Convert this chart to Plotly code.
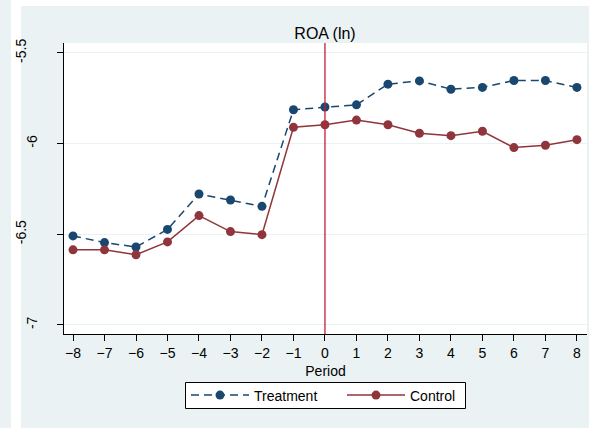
import plotly.graph_objects as go

periods = list(range(-8, 9))
treatment = [-6.509, -6.546, -6.570, -6.473, -6.278, -6.311, -6.346, -5.813, -5.798,
             -5.786, -5.672, -5.654, -5.700, -5.690, -5.652, -5.652, -5.690]
control = [-6.586, -6.586, -6.613, -6.542, -6.397, -6.485, -6.502, -5.910, -5.896,
           -5.870, -5.896, -5.943, -5.956, -5.932, -6.022, -6.009, -5.978]
y_ticks_short = [-7, -6]
y_ticklabels_short = ["-7", "-6"]
y_ticks_long = [-6.5, -5.5]
y_ticklabels_long = ["-6.5", "-5.5"]
x_ticks = periods

BLUE = "#1a476f"
RED = "#90353b"
BG = "#eaf2f3"
FONT = "Arial, Liberation Sans, sans-serif"

W, H = 590, 428
L, R, T, B = 64, 3, 43, 94
PW, PH = W - L - R, H - T - B
Y_RANGE = [-7.05, -5.445]

def px(x):
    return (x - L) / PW

def py(y):
    return (H - B - y) / PH

fig = go.Figure()
fig.add_trace(go.Scatter(
    x=periods, y=treatment, name="Treatment", mode="lines+markers",
    line=dict(color=BLUE, width=1.5, dash="8px,5px"),
    marker=dict(color=BLUE, size=9), legend="legend",
))
fig.add_trace(go.Scatter(
    x=periods, y=control, name="Control", mode="lines+markers",
    line=dict(color=RED, width=1.5),
    marker=dict(color=RED, size=9), legend="legend2",
))
# empty helper trace so the second (label-only) y axis is drawn
fig.add_trace(go.Scatter(x=[], y=[], yaxis="y2", showlegend=False, hoverinfo="skip"))

shapes = [
    dict(type="rect", xref="paper", yref="paper", layer="below",
         x0=px(0), x1=px(11), y0=py(H), y1=py(0), fillcolor=BG, line_width=0),
    dict(type="rect", xref="paper", yref="paper", layer="below",
         x0=px(21), x1=px(589), y0=py(H), y1=py(6), fillcolor=BG, line_width=0),
    dict(type="rect", xref="paper", yref="paper", layer="below",
         x0=0, x1=1, y0=0, y1=1, fillcolor="white", line_width=0),
    dict(type="rect", xref="paper", yref="paper", layer="below",
         x0=px(185.5), x1=px(465.5), y0=py(408.5), y1=py(382.5),
         fillcolor="white", line=dict(color="black", width=1)),
    dict(type="line", xref="x", yref="paper", x0=0, x1=0, y0=0, y1=1,
         line=dict(color="#c41e3a", width=1.3)),
]

legend_common = dict(orientation="h", xref="container", yref="container",
                     xanchor="left", yanchor="middle", y=1 - 395.5 / H,
                     bgcolor="rgba(0,0,0,0)", borderwidth=0,
                     font=dict(size=14), itemwidth=58)

fig.update_layout(
    width=W, height=H,
    margin=dict(l=L, r=R, t=T, b=B, pad=0, autoexpand=False),
    paper_bgcolor="white", plot_bgcolor="white",
    font=dict(family=FONT, size=14, color="black"),
    title=dict(text="ROA (ln)", xref="container", x=325 / W, xanchor="center",
               y=1 - 33 / H, yanchor="middle", font=dict(size=16, color="black")),
    shapes=shapes,
    showlegend=True,
    legend=dict(x=186 / W, **legend_common),
    legend2=dict(x=342 / W, **legend_common),
    xaxis=dict(range=[-8.286, 8.32], tickvals=x_ticks, ticks="outside", ticklen=6,
               tickcolor="black", showline=True, linecolor="black", linewidth=1,
               showgrid=False, zeroline=False, tickfont=dict(size=14), automargin=False,
               title=dict(text="Period", standoff=7, font=dict(size=14))),
    yaxis=dict(range=Y_RANGE, tickvals=y_ticks_short + y_ticks_long,
               ticktext=y_ticklabels_short + ["", ""],
               ticks="outside", ticklen=6, tickcolor="black", tickangle=-90,
               showline=True, linecolor="black", linewidth=1, automargin=False,
               showgrid=True, gridcolor=BG, gridwidth=1, zeroline=False,
               tickfont=dict(size=14), ticklabelstandoff=14),
    yaxis2=dict(range=Y_RANGE, overlaying="y", side="left", anchor="x",
                tickvals=y_ticks_long, ticktext=y_ticklabels_long,
                ticks="", tickangle=-90, showline=False, showgrid=False,
                zeroline=False, automargin=False,
                tickfont=dict(size=14), ticklabelstandoff=34),
)

fig.write_html("out.html", config={"displayModeBar": False},
               post_script="document.body.style.margin='0';document.body.style.padding='0';")
